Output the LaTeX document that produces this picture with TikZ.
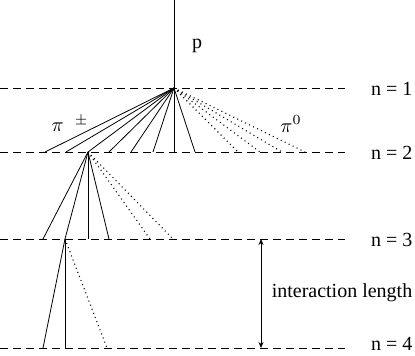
\documentclass[tikz,border=0pt]{standalone}
\usepackage{fontspec}
\setmainfont{Liberation Serif}
\usetikzlibrary{arrows.meta}
\tikzset{
  level/.style={dash pattern=on 4pt off 2.5pt, line width=0.4pt},
  charged/.style={line width=0.4pt},
  neutral/.style={dash pattern=on 0.5pt off 1.7pt, line width=0.55pt},
}
\begin{document}
\begin{tikzpicture}[x=0.5pt,y=-0.5pt,font=\fontsize{10}{12}\selectfont]
  \useasboundingbox (0,0) rectangle (415,356);
  % generation levels
  \foreach \n/\y/\ly in {1/88/89,2/152/153,3/239/240,4/348/344} {
    \coordinate (l\n) at (0,\y);
    \coordinate (r\n) at (345,\y);
    \draw[level] (l\n) -- (r\n);
    \node[anchor=west] (lab\n) at (364,\ly) {n = \n};
  }
  % vertices
  \coordinate (top) at (174,0);
  \coordinate (v1) at (174,88);
  \coordinate (v2) at (88,152);
  \coordinate (v3) at (65,239);
  \draw[charged] (top) -- (v1);
  \node (p) at (197,46) {p};
  % first interaction
  \foreach \x [count=\i] in {45,66,88,109,131,153,174,195} {
    \coordinate (c1-\i) at (\x,152);
    \draw[charged] (v1) -- (c1-\i);
  }
  \foreach \x [count=\i] in {238,260,282,305} {
    \coordinate (d1-\i) at (\x,152);
    \draw[neutral] (v1) -- (d1-\i);
  }
  % second interaction
  \foreach \x [count=\i] in {43,65,88,109} {
    \coordinate (c2-\i) at (\x,239);
    \draw[charged] (v2) -- (c2-\i);
  }
  \foreach \x [count=\i] in {150,173} {
    \coordinate (d2-\i) at (\x,239);
    \draw[neutral] (v2) -- (d2-\i);
  }
  % third interaction
  \foreach \x [count=\i] in {43,65} {
    \coordinate (c3-\i) at (\x,348);
    \draw[charged] (v3) -- (c3-\i);
  }
  \coordinate (d3-1) at (107,348);
  \draw[neutral] (v3) -- (d3-1);
  % labels
  \node (pic) at (70,124) {$\pi\;\;^{\pm}$};
  \node (pin) at (291,124) {$\pi^0$};
  % interaction length
  \coordinate (a3) at (261,239);
  \coordinate (a4) at (261,348);
  \draw[charged,{Stealth[length=3pt,width=2.5pt]}-{Stealth[length=3pt,width=2.5pt]}] (a3) -- (a4);
  \node (il) at (342,293) {interaction length};
\end{tikzpicture}
\end{document}
